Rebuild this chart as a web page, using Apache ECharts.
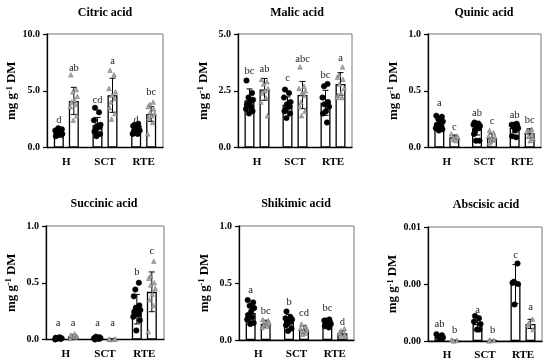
<!DOCTYPE html>
<html><head><meta charset="utf-8">
<script src="https://cdn.jsdelivr.net/npm/echarts@6/dist/echarts.min.js"></script>
<style>html,body{margin:0;padding:0;background:#fff}#c{width:550px;height:363px}</style>
</head><body><div id="c"></div>
<script>
const categories = ['H', 'SCT', 'RTE'];
const titles = ['Citric acid', 'Malic acid', 'Quinic acid', 'Succinic acid', 'Shikimic acid', 'Abscisic acid'];
const yMax = [10, 5, 1, 1, 1, 0.01];
const yTickLabels = [['0.0','5.0','10.0'], ['0.0','2.5','5.0'], ['0.0','0.5','1.0'], ['0.0','0.5','1.0'], ['0.0','0.5','1.0'], ['0.00','0.00','0.01']];

// group A = circles (first bar), group B = triangles (second bar); per panel, per category
const meanA = [[1.25,1.95,1.6],[2.08,1.88,1.97],[0.205,0.17,0.175],[0.008,0.012,0.267],[0.236,0.175,0.155],[0.00035,0.0015,0.005]];
const meanB = [[4.1,4.6,2.95],[2.56,2.31,2.8],[0.09,0.085,0.125],[0.028,0.003,0.42],[0.143,0.09,0.06],[0.00005,0.00005,0.0015]];
const sdA = [[0.3,0.7,0.3],[0.5,0.35,0.55],[0.045,0.06,0.04],[0.008,0.008,0.13],[0.07,0.05,0.025],[0.0002,0.0006,0.0017]];
const sdB = [[1.2,1.5,0.65],[0.48,0.6,0.5],[0.02,0.035,0.04],[0.015,0.003,0.175],[0.03,0.035,0.02],[0.00003,0.00003,0.0004]];

const ptsA = [
  [[1.0,1.1,1.1,1.2,1.25,1.3,1.4,1.5,1.6,1.7],[3.5,3.1,2.4,2.0,1.9,1.8,1.6,1.4,1.2,1.0],[2.1,2.0,1.9,1.8,1.6,1.5,1.4,1.3,1.2,1.2]],
  [[2.95,2.4,2.2,2.1,2.0,1.9,1.8,1.7,1.6,1.5],[2.55,2.4,2.2,2.0,1.9,1.8,1.7,1.6,1.5,1.3],[2.8,2.7,2.2,2.0,1.9,1.8,1.6,1.5,1.1]],
  [[0.28,0.27,0.25,0.23,0.21,0.2,0.18,0.17,0.16,0.15],[0.22,0.21,0.2,0.19,0.18,0.17,0.15,0.12,0.06,0.06],[0.21,0.2,0.2,0.19,0.18,0.17,0.15,0.1,0.09]],
  [[0.0,0.005,0.008,0.01,0.012,0.015,0.02],[0.0,0.005,0.01,0.012,0.015,0.02,0.025],[0.5,0.44,0.38,0.3,0.28,0.26,0.25,0.24,0.22,0.2,0.17,0.08]],
  [[0.35,0.33,0.3,0.28,0.25,0.22,0.2,0.18,0.15,0.14],[0.25,0.2,0.19,0.18,0.17,0.16,0.15,0.13,0.1,0.08],[0.18,0.17,0.17,0.16,0.15,0.14,0.13,0.12,0.11]],
  [[0.0006,0.0005,0.0004,0.0003,0.0002],[0.0022,0.002,0.0017,0.0015,0.001,0.001],[0.0068,0.0052,0.0051,0.005,0.0032]]
];
const ptsB = [
  [[6.4,5.1,4.9,4.5,4.2,4.0,3.8,3.6,2.8,2.4],[6.8,6.4,5.2,4.9,4.6,4.3,4.0,3.5,3.0,2.5],[4.0,3.8,3.6,3.4,3.1,3.0,2.8,2.6,2.2,1.2]],
  [[3.0,2.9,2.8,2.6,2.5,2.4,2.2,2.0,1.4],[3.55,2.7,2.6,2.5,2.4,2.3,2.0,1.8,1.6,1.4],[3.55,3.2,3.1,3.0,2.8,2.6,2.4,2.3,2.2,2.2]],
  [[0.12,0.1,0.09,0.09,0.08,0.07,0.06],[0.15,0.13,0.1,0.09,0.08,0.07,0.05,0.04],[0.16,0.15,0.14,0.12,0.1,0.08,0.06]],
  [[0.01,0.02,0.025,0.03,0.035,0.04,0.05],[0.0,0.002,0.004,0.005],[0.69,0.56,0.54,0.5,0.48,0.45,0.4,0.35,0.3,0.07]],
  [[0.18,0.17,0.16,0.15,0.14,0.13,0.12,0.11],[0.14,0.12,0.1,0.09,0.08,0.06,0.05],[0.1,0.08,0.06,0.05,0.04,0.03]],
  [[0.0001,0.00005,0.0],[0.0001,0.00005,0.0],[0.0019,0.0016,0.0014,0.001]]
];

const lettersA = [['d','cd','d'],['bc','c','bc'],['a','ab','ab'],['a','a','b'],['a','b','bc'],['ab','a','c']];
const lettersB = [['ab','a','bc'],['ab','abc','a'],['c','c','bc'],['a','a','c'],['bc','cd','d'],['b','b','a']];
const letterPosA = [[2.4,4.2,2.4],[3.34,3.05,3.2],[0.39,0.3,0.285],[0.14,0.14,0.59],[0.44,0.33,0.28],[0.0015,0.0027,0.0075]];
const letterPosB = [[7.0,7.6,4.9],[3.44,3.9,3.93],[0.18,0.227,0.236],[0.14,0.14,0.78],[0.256,0.233,0.16],[0.0009,0.0009,0.003]];

// layout
const grids = [
  {left:47, top:34, width:116, height:113.5},
  {left:238, top:34, width:114, height:113.5},
  {left:428, top:34, width:113, height:113.5},
  {left:46, top:226, width:118, height:113.5},
  {left:239, top:226, width:115, height:114},
  {left:428, top:227, width:114, height:114}
];
const titlePos = [[105,13],[297,13],[484,13],[104,204],[296,204],[486,205]];
const FF = '"Liberation Serif", "Times New Roman", serif';
const OFF = 7.5;
const jit = [-3, 2.5, -1, 3.5, 0.5, -2.5, 1.5, -3.5, 3, -0.5, 2, -1.5];

const chart = echarts.init(document.getElementById('c'), null, {renderer:'canvas'});
const option = {
  animation:false,
  backgroundColor:'#fff',
  grid: grids.map(g => Object.assign({show:true, borderColor:'#777', borderWidth:1, backgroundColor:'transparent'}, g)),
  xAxis: grids.map((g,i) => ({
    type:'category', gridIndex:i, data:categories,
    axisLine:{lineStyle:{color:'#000', width:1.3}},
    axisTick:{show:false},
    axisLabel:{fontFamily:FF, fontWeight:'bold', fontSize:11, color:'#000', margin:9}
  })),
  yAxis: grids.map((g,i) => ({
    type:'value', gridIndex:i, min:0, max:yMax[i], interval:yMax[i]/2,
    splitLine:{show:false},
    axisLine:{show:true, lineStyle:{color:'#000', width:1.3}},
    axisTick:{show:true, length:4, lineStyle:{color:'#000', width:1.2}},
    axisLabel:{fontFamily:FF, fontWeight:'bold', fontSize:10, color:'#000', margin:7,
      formatter:(v, idx) => yTickLabels[i][idx]},
    name:'{a|mg g}{s|-1}{a| DM}', nameLocation:'middle', nameRotate:90, nameGap:28,
    nameTextStyle:{rich:{
      a:{fontFamily:FF, fontWeight:'bold', fontSize:13, color:'#000'},
      s:{fontFamily:FF, fontWeight:'bold', fontSize:8, color:'#000', verticalAlign:'top'}
    }}
  })),
  graphic: titles.map((t,i) => ({
    type:'text', x:titlePos[i][0], y:titlePos[i][1],
    style:{text:t, font:'bold 12px ' + FF, fill:'#000', align:'center', verticalAlign:'middle'}
  })),
  series: []
};

function errSeries(i, means, sds, side) {
  return {
    type:'custom', xAxisIndex:i, yAxisIndex:i, z:3,
    data: means[i].map((m,c) => [c, m, sds[i][c]]),
    renderItem: (params, api) => {
      const c = api.value(0), m = api.value(1), s = api.value(2);
      const t = api.coord([c, m + s]);
      const b = api.coord([c, Math.max(0, m - s)]);
      const x = t[0] + side * OFF;
      return {type:'group', children:[
        {type:'line', shape:{x1:x, y1:t[1], x2:x, y2:b[1]}, style:{stroke:'#000', lineWidth:1}},
        {type:'line', shape:{x1:x-3, y1:t[1], x2:x+3, y2:t[1]}, style:{stroke:'#000', lineWidth:1}},
        {type:'line', shape:{x1:x-3, y1:b[1], x2:x+3, y2:b[1]}, style:{stroke:'#000', lineWidth:1}}
      ]};
    }
  };
}
function ptSeries(i, pts, side, symbol, size, color, border) {
  const data = [];
  pts[i].forEach((arr, c) => arr.forEach((v, k) => {
    data.push({value:[c, v], symbolOffset:[side * OFF + jit[(k + c * 5) % jit.length], 0]});
  }));
  return {type:'scatter', xAxisIndex:i, yAxisIndex:i, z:4, symbol:symbol, symbolSize:size,
    itemStyle:{color:color, borderColor:border, borderWidth:0.5, opacity:1}, data:data};
}
function letterSeries(i, letters, pos, side) {
  return {
    type:'custom', xAxisIndex:i, yAxisIndex:i, z:5,
    data: pos[i].map((p,c) => [c, p]),
    renderItem: (params, api) => {
      const c = api.value(0), p = api.value(1);
      const pt = api.coord([c, p]);
      return {type:'text', x:pt[0] + side * OFF, y:pt[1],
        style:{text:letters[i][c], font:'10.5px ' + FF, fill:'#222', align:'center', verticalAlign:'middle'}};
    }
  };
}

for (let i = 0; i < 6; i++) {
  const barStyle = {color:'#fff', borderColor:'#000', borderWidth:1.3};
  option.series.push({type:'bar', xAxisIndex:i, yAxisIndex:i, data:meanA[i], barWidth:10, barGap:'50%', itemStyle:barStyle, z:2});
  option.series.push({type:'bar', xAxisIndex:i, yAxisIndex:i, data:meanB[i], barWidth:10, barGap:'50%', itemStyle:barStyle, z:2});
  option.series.push(ptSeries(i, ptsA, -1, 'circle', 5.5, '#000', '#000'));
  option.series.push(ptSeries(i, ptsB, 1, 'triangle', 4.5, '#aaa', '#666'));
  option.series.push(errSeries(i, meanA, sdA, -1));
  option.series.push(errSeries(i, meanB, sdB, 1));
  option.series.push(letterSeries(i, lettersA, letterPosA, -1));
  option.series.push(letterSeries(i, lettersB, letterPosB, 1));
}
chart.setOption(option);
</script></body></html>
